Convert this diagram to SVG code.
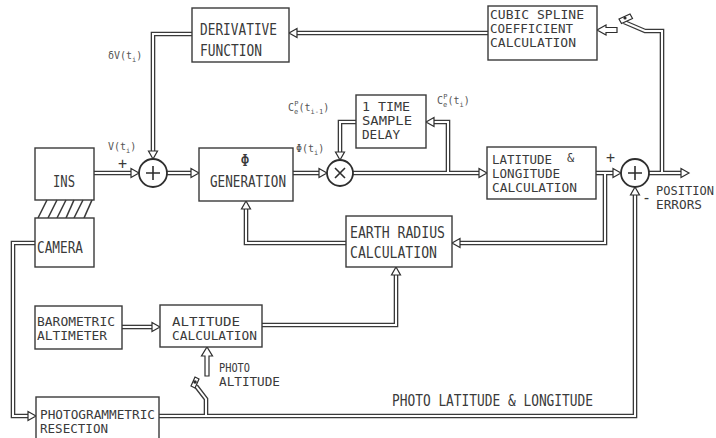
<svg xmlns="http://www.w3.org/2000/svg" xmlns:xlink="http://www.w3.org/1999/xlink" width="716" height="438" viewBox="0 0 716 438">
<style>
.bx{fill:#fff;stroke:#3a3a3a;stroke-width:1.4}
.cir{fill:#fff;stroke:#2e2e2e;stroke-width:1.8}
.sg{stroke:#2e2e2e;stroke-width:1.6;fill:none}
.o{fill:none;stroke:#3a3a3a;stroke-width:4.6;stroke-linejoin:miter}
.i{fill:none;stroke:#fff;stroke-width:2;stroke-linejoin:miter}
.ah{fill:#fff;stroke:#2e2e2e;stroke-width:1.2;stroke-linejoin:miter}
.t{font-family:"DejaVu Sans Mono","Liberation Mono",monospace;font-size:15px;fill:#3a3a3a}
.m{font-size:12px}
.s{font-family:"DejaVu Sans Mono","Liberation Mono",monospace;font-size:10px;fill:#555}
.ss{font-size:7px}
.h{stroke:#3a3a3a;stroke-width:1.6}
</style>
<defs>
<path id="p1" d="M488,33 H297"/>
<path id="p2" d="M192,34 H153 V151"/>
<path id="p3" d="M94,173 H131"/>
<path id="p4" d="M167,173 H191"/>
<path id="p5" d="M293,173 H319"/>
<path id="p6" d="M353,173 H479"/>
<path id="p7" d="M448,173 V122 H434"/>
<path id="p8" d="M356,122 H340 V152"/>
<path id="p9" d="M596,173 H613"/>
<path id="p10" d="M605,173 V243 H460"/>
<path id="p11" d="M346,243 H246 V209"/>
<path id="p12" d="M262,325 H396 V275"/>
<path id="p13" d="M122,327 H152"/>
<path id="p14" d="M35,243 H13 V416 H28"/>
<path id="p15" d="M159,416 H635 V195"/>
<path id="p16" d="M206,416 V399 L196,386"/>
<path id="p17" d="M649,173 H681"/>
<path id="p18" d="M662,173 V31 H645 L624,22"/>
</defs>
<rect width="716" height="438" fill="#fff"/>

<g id="connectors">
<g class="o">
<use xlink:href="#p1"/><use xlink:href="#p2"/><use xlink:href="#p3"/><use xlink:href="#p4"/><use xlink:href="#p5"/><use xlink:href="#p6"/><use xlink:href="#p7"/><use xlink:href="#p8"/><use xlink:href="#p9"/><use xlink:href="#p10"/><use xlink:href="#p11"/><use xlink:href="#p12"/><use xlink:href="#p13"/><use xlink:href="#p14"/><use xlink:href="#p15"/><use xlink:href="#p16"/><use xlink:href="#p17"/><use xlink:href="#p18"/>
</g>
<g class="i">
<use xlink:href="#p1"/><use xlink:href="#p2"/><use xlink:href="#p3"/><use xlink:href="#p4"/><use xlink:href="#p5"/><use xlink:href="#p6"/><use xlink:href="#p7"/><use xlink:href="#p8"/><use xlink:href="#p9"/><use xlink:href="#p10"/><use xlink:href="#p11"/><use xlink:href="#p12"/><use xlink:href="#p13"/><use xlink:href="#p14"/><use xlink:href="#p15"/><use xlink:href="#p16"/><use xlink:href="#p17"/><use xlink:href="#p18"/>
</g>
<g class="ah">
<polygon points="289,33 297,28.5 297,37.5"/>
<polygon points="153,159 148.5,151 157.5,151"/>
<polygon points="139,173 131,168.5 131,177.5"/>
<polygon points="199,173 191,168.5 191,177.5"/>
<polygon points="327,173 319,168.5 319,177.5"/>
<polygon points="487,173 479,168.5 479,177.5"/>
<polygon points="426,122 434,117.5 434,126.5"/>
<polygon points="340,160 335.5,152 344.5,152"/>
<polygon points="621,173 613,168.5 613,177.5"/>
<polygon points="452,243 460,238.5 460,247.5"/>
<polygon points="246,201 241.5,209 250.5,209"/>
<polygon points="396,267 391.5,275 400.5,275"/>
<polygon points="160,327 152,322.5 152,331.5"/>
<polygon points="36,416 28,411.5 28,420.5"/>
<polygon points="635,187 630.5,195 639.5,195"/>
<polygon points="689,173 681,168.5 681,177.5"/>
<polygon points="617,27.5 606,27.5 606,25 597,30 606,35 606,32.5 617,32.5"/>
<polygon points="205,376 205,356 201.5,356 207,347 212.5,356 209,356 209,376"/>
<polygon points="619,19 630,14 632.5,18.5 621.5,23.5"/>
<polygon points="191,386 195,377 199,379 195,388"/>
</g>
<circle cx="625" cy="18" r="1.6" fill="#2e2e2e"/>
<circle cx="195" cy="382" r="1.8" fill="#2e2e2e"/>
</g>

<g id="derivative">
<rect class="bx" x="192" y="8" width="97" height="54"/>
<text class="t" x="200" y="35" textLength="77" lengthAdjust="spacingAndGlyphs">DERIVATIVE</text>
<text class="t" x="200" y="56" textLength="62" lengthAdjust="spacingAndGlyphs">FUNCTION</text>
</g>
<g id="cubic">
<rect class="bx" x="488" y="6" width="109" height="54"/>
<text class="t m" x="490" y="19" textLength="94" lengthAdjust="spacingAndGlyphs">CUBIC SPLINE</text>
<text class="t m" x="490" y="33" textLength="83" lengthAdjust="spacingAndGlyphs">COEFFICIENT</text>
<text class="t m" x="490" y="47" textLength="86" lengthAdjust="spacingAndGlyphs">CALCULATION</text>
</g>
<g id="delay">
<rect class="bx" x="356" y="95" width="70" height="53"/>
<text class="t m" x="362" y="111" textLength="48" lengthAdjust="spacingAndGlyphs">1 TIME</text>
<text class="t m" x="362" y="125" textLength="50" lengthAdjust="spacingAndGlyphs">SAMPLE</text>
<text class="t m" x="362" y="139" textLength="38" lengthAdjust="spacingAndGlyphs">DELAY</text>
</g>
<g id="latlong">
<rect class="bx" x="487" y="147" width="109" height="52"/>
<text class="t m" x="492" y="164" textLength="60" lengthAdjust="spacingAndGlyphs">LATITUDE</text>
<text class="t m" x="567" y="162">&amp;</text>
<text class="t m" x="492" y="178" textLength="68" lengthAdjust="spacingAndGlyphs">LONGITUDE</text>
<text class="t m" x="492" y="192" textLength="85" lengthAdjust="spacingAndGlyphs">CALCULATION</text>
</g>
<g id="earth">
<rect class="bx" x="346" y="216" width="106" height="51"/>
<text class="t" x="350" y="238" textLength="95" lengthAdjust="spacingAndGlyphs">EARTH RADIUS</text>
<text class="t" x="350" y="258" textLength="87" lengthAdjust="spacingAndGlyphs">CALCULATION</text>
</g>
<g id="ins">
<rect class="bx" x="35" y="148" width="59" height="52"/>
<text class="t" x="53" y="187" textLength="22" lengthAdjust="spacingAndGlyphs">INS</text>
</g>
<g id="hatch">
<line class="h" x1="38" y1="218" x2="47" y2="200"/>
<line class="h" x1="48" y1="218" x2="57" y2="200"/>
<line class="h" x1="57" y1="218" x2="66" y2="200"/>
<line class="h" x1="66" y1="218" x2="74" y2="200"/>
<line class="h" x1="74" y1="218" x2="83" y2="200"/>
<line class="h" x1="84" y1="218" x2="92" y2="200"/>
</g>
<g id="camera">
<rect class="bx" x="35" y="218" width="59" height="49"/>
<text class="t" x="37" y="253" textLength="46" lengthAdjust="spacingAndGlyphs">CAMERA</text>
</g>
<g id="phigen">
<rect class="bx" x="199" y="148" width="94" height="53"/>
<text class="t" x="245" y="166" font-size="12" text-anchor="middle">Φ</text>
<text class="t" x="210" y="187" textLength="76" lengthAdjust="spacingAndGlyphs">GENERATION</text>
</g>
<g id="sum1">
<circle class="cir" cx="153" cy="173" r="14"/>
<path class="sg" d="M146,173 H160 M153,166 V180"/>
</g>
<g id="mult">
<circle class="cir" cx="340" cy="173" r="13"/>
<path class="sg" d="M335,168 L345,178 M345,168 L335,178"/>
</g>
<g id="sum2">
<circle class="cir" cx="635" cy="173" r="14"/>
<path class="sg" d="M628,173 H642 M635,166 V180"/>
</g>
<g id="baro">
<rect class="bx" x="35" y="306" width="87" height="43"/>
<text class="t m" x="37" y="326" textLength="78" lengthAdjust="spacingAndGlyphs">BAROMETRIC</text>
<text class="t m" x="37" y="340" textLength="70" lengthAdjust="spacingAndGlyphs">ALTIMETER</text>
</g>
<g id="altcalc">
<rect class="bx" x="160" y="305" width="102" height="42"/>
<text class="t m" x="172" y="326" textLength="68" lengthAdjust="spacingAndGlyphs">ALTITUDE</text>
<text class="t m" x="172" y="340" textLength="85" lengthAdjust="spacingAndGlyphs">CALCULATION</text>
</g>
<g id="photogram">
<rect class="bx" x="36" y="397" width="123" height="50"/>
<text class="t m" x="40" y="419" textLength="115" lengthAdjust="spacingAndGlyphs">PHOTOGRAMMETRIC</text>
<text class="t m" x="40" y="433" textLength="68" lengthAdjust="spacingAndGlyphs">RESECTION</text>
</g>

<g id="labels">
<text class="t m" x="219" y="372" textLength="31" lengthAdjust="spacingAndGlyphs">PHOTO</text>
<text class="t m" x="219" y="386" textLength="61" lengthAdjust="spacingAndGlyphs">ALTITUDE</text>
<text class="t" x="392" y="406" font-size="14" textLength="201" lengthAdjust="spacingAndGlyphs">PHOTO LATITUDE &amp; LONGITUDE</text>
<text class="t m" x="656" y="195" textLength="58" lengthAdjust="spacingAndGlyphs">POSITION</text>
<text class="t m" x="656" y="209" textLength="46" lengthAdjust="spacingAndGlyphs">ERRORS</text>
<text class="t" x="118" y="169" font-size="16">+</text>
<text class="t" x="606" y="163" font-size="13">+</text>
<text class="t" x="642" y="203" font-size="14">-</text>
<text class="s" x="108" y="59">δV(t<tspan class="ss" dy="3">i</tspan><tspan dy="-3">)</tspan></text>
<text class="s" x="108" y="150">V(t<tspan class="ss" dy="3">i</tspan><tspan dy="-3">)</tspan></text>
<text class="s" x="296" y="152">Φ(t<tspan class="ss" dy="3">i</tspan><tspan dy="-3">)</tspan></text>
<text class="s" x="288" y="111">C<tspan class="ss" dy="3">e</tspan><tspan class="ss" dx="-4" dy="-8">P</tspan><tspan dy="5">(t</tspan><tspan class="ss" dy="3">i-1</tspan><tspan dy="-3">)</tspan></text>
<text class="s" x="437" y="104">C<tspan class="ss" dy="3">e</tspan><tspan class="ss" dx="-4" dy="-8">P</tspan><tspan dy="5">(t</tspan><tspan class="ss" dy="3">i</tspan><tspan dy="-3">)</tspan></text>
</g>
</svg>
